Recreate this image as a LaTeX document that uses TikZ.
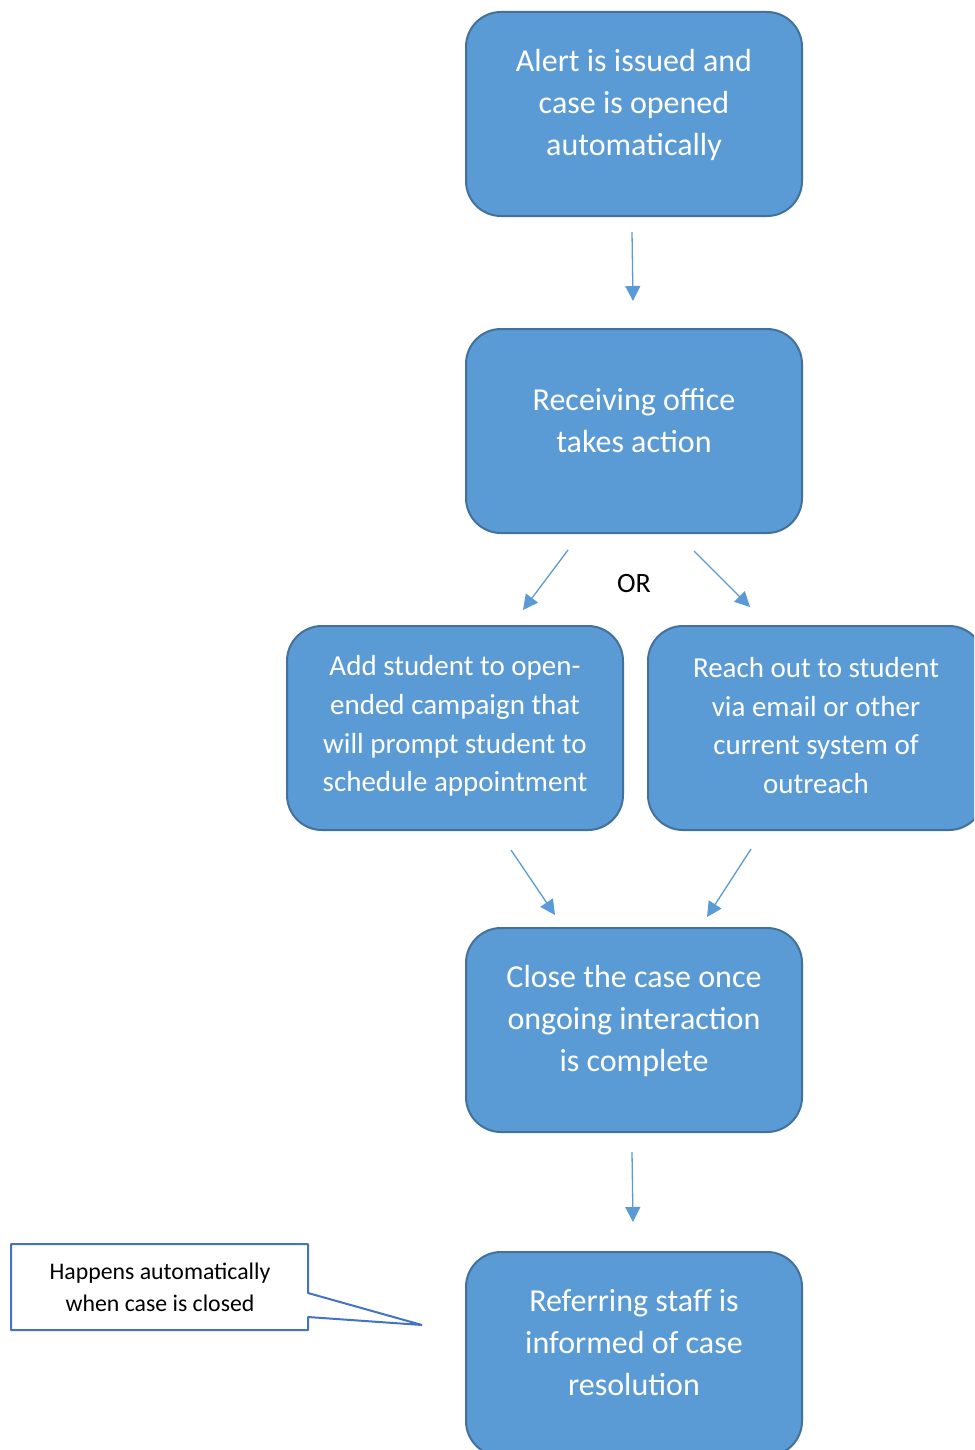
\documentclass[tikz,border=0pt]{standalone}
\usepackage{fontspec}
\setmainfont{Carlito}
\usetikzlibrary{arrows.meta}
\definecolor{boxfill}{HTML}{5B9BD5}
\definecolor{boxline}{HTML}{41719C}
\definecolor{arrowc}{HTML}{5B9BD5}
\definecolor{callline}{HTML}{4472C4}
\tikzset{
  stepbox/.style={draw=boxline, line width=2pt, fill=boxfill, rounded corners=35pt,
    minimum width=336pt, minimum height=204pt, inner sep=0pt},
  bigtext/.style={text=white, align=center, font=\fontsize{32}{42}\selectfont, inner sep=0pt},
  midtext/.style={text=white, align=center, font=\fontsize{29}{38.8}\selectfont, inner sep=0pt},
  flowarrow/.style={draw=arrowc, line width=1.3pt, -{Triangle[length=15pt,width=15pt]}},
  calltext/.style={text=black, align=center, font=\fontsize{23.8}{32}\selectfont, inner sep=0pt},
}
\begin{document}
\begin{tikzpicture}[x=1pt,y=-1pt]
\useasboundingbox (0,0) rectangle (974,1450);
\clip (0,0) rectangle (974,1450);
\fill[white] (0,0) rectangle (974,1450);

% boxes
\node[stepbox] (b1) at (634,114) {};
\node[bigtext] (t1) at (634,105) {Alert is issued and\\case is opened\\automatically};

\node[stepbox] (b2) at (634,431) {};
\node[bigtext] (t2) at (634,421) {Receiving office\\takes action};

\node[stepbox] (b3) at (455,728) {};
\node[midtext] (t3) at (455,726) {Add student to open-\\ended campaign that\\will prompt student to\\schedule appointment};

\node[stepbox] (b4) at (816,728) {};
\node[midtext] (t4) at (816,725.5) {Reach out to student\\via email or other\\current system of\\outreach};

\node[stepbox] (b5) at (634,1030) {};
\node[bigtext] (t5) at (634,1021) {Close the case once\\ongoing interaction\\is complete};

\node[stepbox] (b6) at (634,1354) {};
\node[bigtext] (t6) at (634,1343) {Referring staff is\\informed of case\\resolution};

% OR label
\node[font=\fontsize{28}{34}\selectfont, inner sep=0pt] (or) at (634,584) {OR};

% arrow end points
\coordinate (a1s) at (632,232); \coordinate (a1e) at (633,301);
\coordinate (a2s) at (568,550); \coordinate (a2e) at (523,610);
\coordinate (a3s) at (694,551); \coordinate (a3e) at (750,607);
\coordinate (a4s) at (511,850); \coordinate (a4e) at (555,915);
\coordinate (a5s) at (751,849); \coordinate (a5e) at (707,917);
\coordinate (a6s) at (632,1152); \coordinate (a6e) at (633,1222);

\draw[flowarrow] (a1s) -- (a1e);
\draw[flowarrow] (a2s) -- (a2e);
\draw[flowarrow] (a3s) -- (a3e);
\draw[flowarrow] (a4s) -- (a4e);
\draw[flowarrow] (a5s) -- (a5e);
\draw[flowarrow] (a6s) -- (a6e);

% callout
\coordinate (ctip) at (422,1325);
\draw[callline, line width=2pt, fill=white, line join=bevel]
  (11,1244) -- (308,1244) -- (308,1293) -- (ctip) -- (308,1317) -- (308,1330) -- (11,1330) -- cycle;
\node[calltext] (ct) at (160,1287) {Happens automatically\\when case is closed};
\end{tikzpicture}
\end{document}
